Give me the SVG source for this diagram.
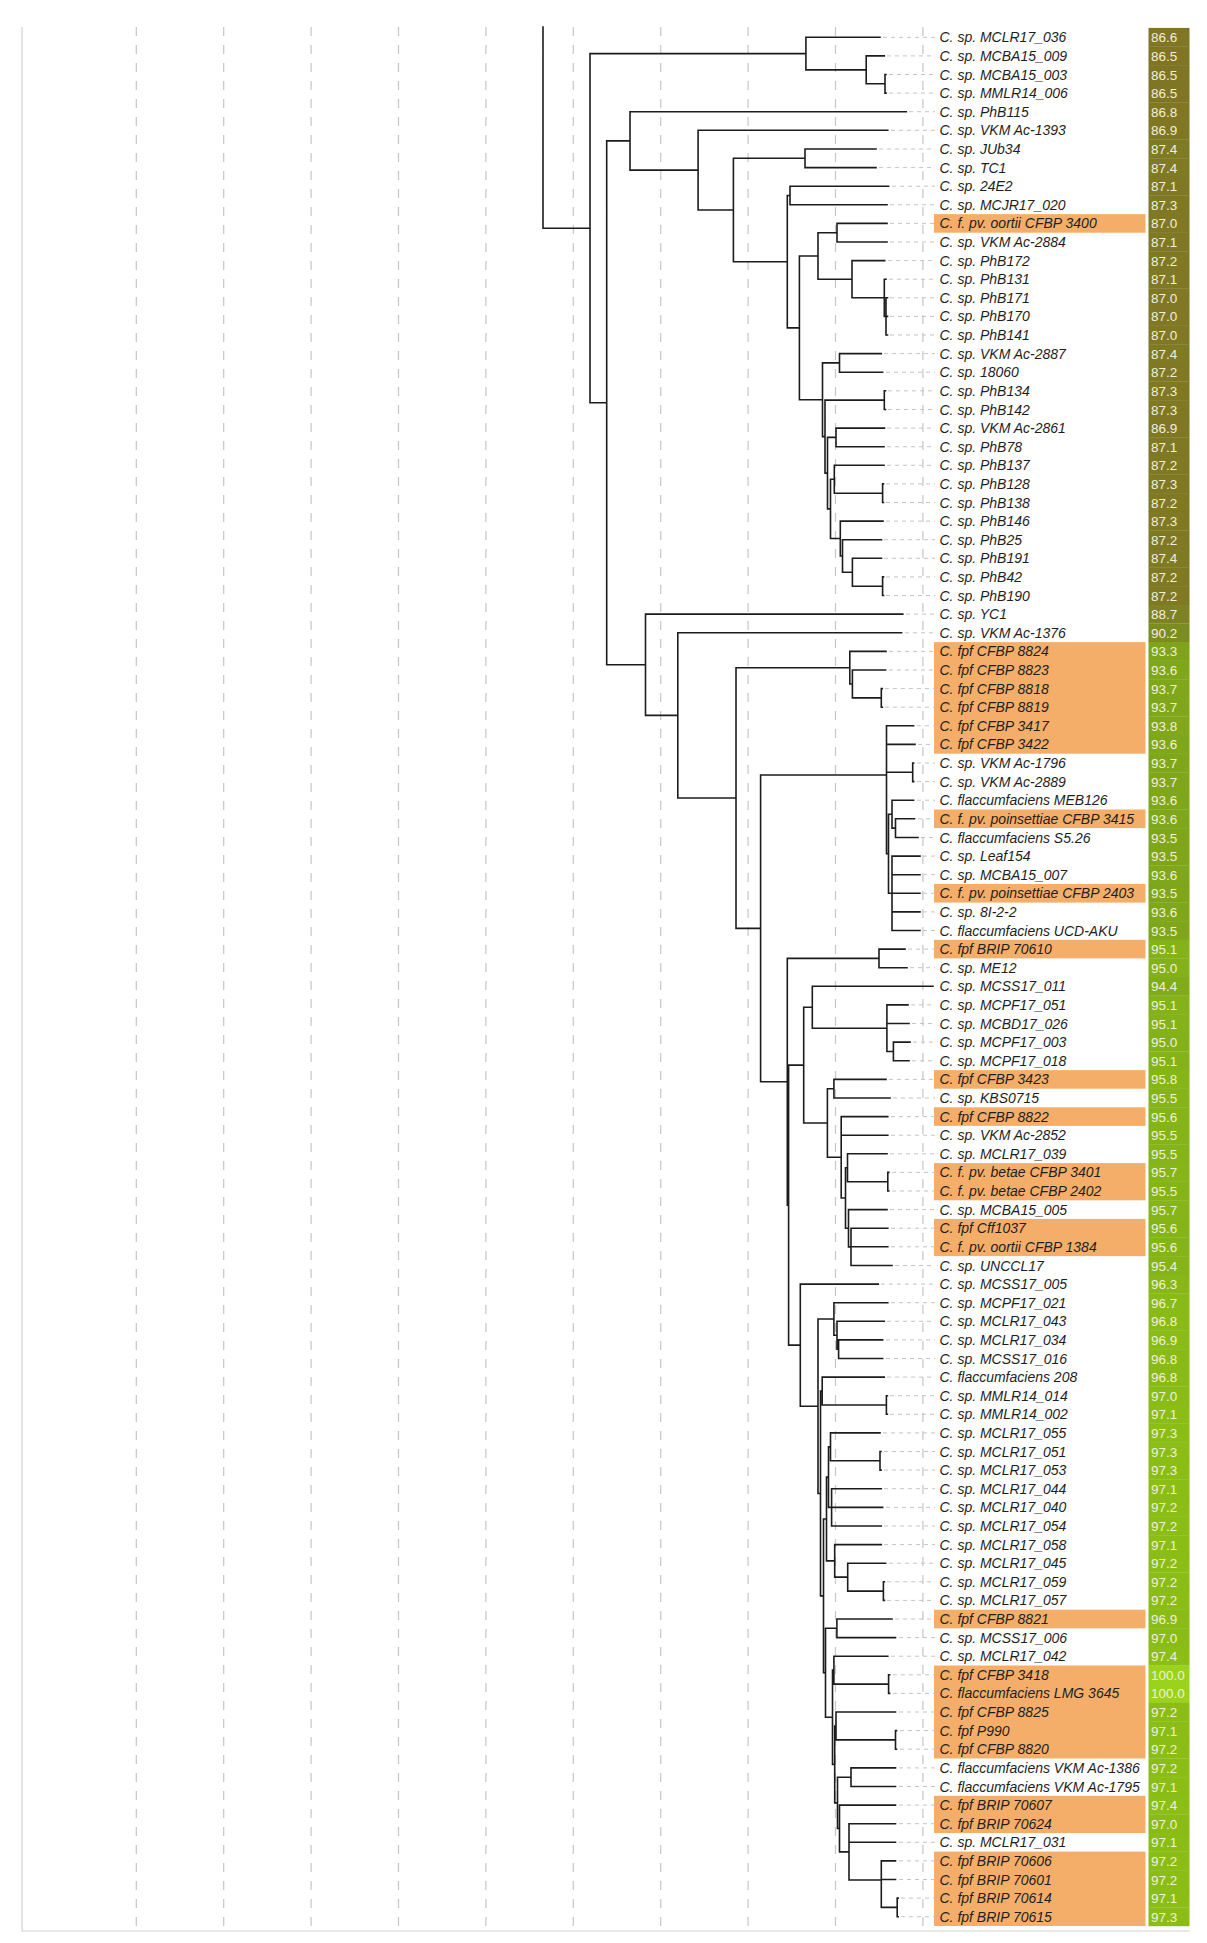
<svg xmlns="http://www.w3.org/2000/svg" width="1207" height="1943" viewBox="0 0 1207 1943">
<style>
.grid{stroke:#c6c6c6;stroke-width:1.2;stroke-dasharray:9 9;fill:none}
.frame{stroke:#d2d2d2;stroke-width:1.2;fill:none}
.br{stroke:#1c1c1c;stroke-width:1.6;fill:none;stroke-linecap:square}
.ld{stroke:#c4c4c4;stroke-width:1;stroke-dasharray:4 4;fill:none}
.hl{fill:#f4ae6a}
.lb{font-family:"Liberation Sans",Arial,sans-serif;font-style:italic;font-size:14px;fill:#1e1e1e}
.vt{font-family:"Liberation Sans",Arial,sans-serif;font-size:13.5px;fill:#f0efdc}
</style>
<rect width="1207" height="1943" fill="#ffffff"/>
<g id="background">
<path class="grid" d="M136.3 27V1927M223.7 27V1927M311.1 27V1927M398.5 27V1927M485.9 27V1927M573.3 27V1927M660.7 27V1927M748.1 27V1927M835.5 27V1927M922.9 27V1927"/>
<path class="frame" d="M22 27V1931H1190"/>
</g>
<g id="highlights">
<rect class="hl" x="934" y="214.1" width="211.5" height="18.6"/>
<rect class="hl" x="934" y="642.1" width="211.5" height="111.6"/>
<rect class="hl" x="934" y="809.5" width="211.5" height="18.6"/>
<rect class="hl" x="934" y="884.0" width="211.5" height="18.6"/>
<rect class="hl" x="934" y="939.8" width="211.5" height="18.6"/>
<rect class="hl" x="934" y="1070.1" width="211.5" height="18.6"/>
<rect class="hl" x="934" y="1107.3" width="211.5" height="18.6"/>
<rect class="hl" x="934" y="1163.1" width="211.5" height="37.2"/>
<rect class="hl" x="934" y="1218.9" width="211.5" height="37.2"/>
<rect class="hl" x="934" y="1609.7" width="211.5" height="18.6"/>
<rect class="hl" x="934" y="1665.5" width="211.5" height="93.0"/>
<rect class="hl" x="934" y="1795.8" width="211.5" height="37.2"/>
<rect class="hl" x="934" y="1851.6" width="211.5" height="74.4"/>
</g>
<g id="connectors">
<path class="ld" d="M883 37.3H935M887 55.9H935M889 74.5H935M889 93.1H935M909 111.7H935M891 130.3H935M879 149H935M879 167.6H935M892 186.2H935M890 204.8H935M890 223.4H935M890 242H935M888 260.6H935M889 279.2H935M890 297.8H935M890 316.4H935M890 335H935M884 353.6H935M886 372.2H935M888 390.8H935M888 409.5H935M887 428.1H935M887 446.7H935M887 465.3H935M886 483.9H935M886 502.5H935M886 521.1H935M884 539.7H935M884 558.3H935M886 576.9H935M886 595.5H935M906 614.1H935M905 632.8H935M889 651.4H935M889 670H935M885 688.6H935M885 707.2H935M917 725.8H935M918 744.4H935M917 763H935M917 781.6H935M917 800.2H935M918 818.8H935M921 837.5H935M923 856.1H935M923 874.7H935M923 893.3H935M923 911.9H935M923 930.5H935M908 949.1H935M910 967.7H935M911 1004.9H935M912 1023.5H935M913 1042.1H935M912 1060.8H935M889 1079.4H935M893 1098H935M891 1116.6H935M891 1135.2H935M890 1153.8H935M892 1172.4H935M892 1191H935M890 1209.6H935M891 1228.2H935M891 1246.8H935M895 1265.5H935M881 1284.1H935M891 1302.7H935M887 1321.3H935M886 1339.9H935M886 1358.5H935M887 1377.1H935M890 1395.7H935M890 1414.3H935M883 1432.9H935M884 1451.5H935M884 1470.1H935M884 1488.7H935M886 1507.4H935M884 1526H935M884 1544.6H935M889 1563.2H935M887 1581.8H935M887 1600.4H935M895 1619H935M899 1637.6H935M891 1656.2H935M893 1674.8H935M893 1693.4H935M899 1712H935M900 1730.6H935M900 1749.2H935M899 1767.9H935M899 1786.5H935M899 1805.1H935M899 1823.7H935M899 1842.3H935M899 1860.9H935M899 1879.5H935M901 1898.1H935M901 1916.7H935"/>
<path class="br" d="M543 27V228.2M543 228.2H590
M590 53.6V402.8M590 53.6H805.9M590 402.8H606.7
M805.9 37.3V69.85M805.9 37.3H880M805.9 69.85H866.2
M866.2 55.9V83.8M866.2 55.9H884.3M866.2 83.8H885
M885 74.5V93.1M885 74.5H886M885 93.1H886
M606.7 140.9V664.75M606.7 140.9H630M606.7 664.75H645.5
M630 111.7V170.15M630 111.7H906.3M630 170.15H698.1
M698.1 130.3V210M698.1 130.3H887.8M698.1 210H733.4
M733.4 158.3V261.7M733.4 158.3H805M733.4 261.7H787.3
M805 149V167.6M805 149H876M805 167.6H876
M787.3 195.5V327.9M787.3 195.5H790M787.3 327.9H799.4
M790 186.2V204.8M790 186.2H888.6M790 204.8H887
M799.4 255.95V399.8M799.4 255.95H818M799.4 399.8H822.5
M818 232.7V279.2M818 232.7H837M818 279.2H852
M837 223.4V242M837 223.4H887M837 242H887
M852 260.6V297.8M852 260.6H884.7M852 297.8H884.3
M884.3 279.2V316.4M884.3 279.2H886M884.3 316.4H886
M886 297.8V335M886 297.8H887.5M886 316.4H887.5M886 335H887.5
M822.5 362.9V436.65M822.5 362.9H839.5M822.5 436.65H825
M839.5 353.6V372.2M839.5 353.6H881.3M839.5 372.2H882.6
M825 400.15V473.15M825 400.15H884.3M825 473.15H827.5
M884.3 390.8V409.5M884.3 390.8H885.5M884.3 409.5H885.5
M827.5 437.4V508.9M827.5 437.4H836M827.5 508.9H830.5
M836 428.1V446.7M836 428.1H884.5M836 446.7H884
M830.5 479.25V538.55M830.5 479.25H834.3M830.5 538.55H840.3
M834.3 465.3V493.2M834.3 465.3H884M834.3 493.2H882.6
M882.6 483.9V502.5M882.6 483.9H883.5M882.6 502.5H883.5
M840.3 521.1V556M840.3 521.1H883M840.3 556H842.5
M842.5 539.7V572.25M842.5 539.7H881.5M842.5 572.25H852.4
M852.4 558.3V586.2M852.4 558.3H881.5M852.4 586.2H882.6
M882.6 576.9V595.5M882.6 576.9H883.5M882.6 595.5H883.5
M645.5 614.1V715.4M645.5 614.1H902.8M645.5 715.4H677.8
M677.8 632.8V798.05M677.8 632.8H901.6M677.8 798.05H736
M736 667.7V928.4M736 667.7H849.8M736 928.4H760.6
M849.8 651.4V683.95M849.8 651.4H886M849.8 683.95H852.4
M852.4 670V697.9M852.4 670H885.6M852.4 697.9H881.3
M881.3 688.6V707.2M881.3 688.6H882.3M881.3 707.2H882.3
M760.6 775V1081.75M760.6 775H886.5M760.6 1081.75H787.3
M886.5 725.8V853.75M886.5 725.8H913.6M886.5 744.4H915M886.5 772.3H912.7M886.5 853.75H888.5
M912.7 763V781.6M912.7 763H913.7M912.7 781.6H913.7
M888.5 814.2V893.3M888.5 814.2H892M888.5 893.3H892
M892 800.2V828.15M892 800.2H913.6M892 828.15H895.5
M895.5 818.8V837.5M895.5 818.8H914.5M895.5 837.5H918
M892 856.1V930.5M892 856.1H920M892 874.7H920M892 893.3H920M892 911.9H920M892 930.5H920
M787.3 958.4V1205.1M787.3 958.4H879M787.3 1205.1H788.6
M879 949.1V967.7M879 949.1H905M879 967.7H907
M788.6 1065.1V1345.15M788.6 1065.1H803.7M788.6 1345.15H800.3
M803.7 1007.25V1123M803.7 1007.25H812.3M803.7 1123H827.4
M812.3 986.3V1028.2M812.3 986.3H933M812.3 1028.2H886.9
M886.9 1004.9V1051.45M886.9 1004.9H908M886.9 1023.5H909M886.9 1051.45H893.4
M893.4 1042.1V1060.8M893.4 1042.1H910M893.4 1060.8H909
M827.4 1088.7V1157.3M827.4 1088.7H833.9M827.4 1157.3H841.2
M833.9 1079.4V1098M833.9 1079.4H886M833.9 1098H890
M841.2 1116.6V1198M841.2 1116.6H887.8M841.2 1135.2H887.8M841.2 1198H845.5
M845.5 1167.75V1228.2M845.5 1167.75H847.5M845.5 1228.2H848.5
M847.5 1153.8V1181.7M847.5 1153.8H887M847.5 1181.7H887.8
M887.8 1172.4V1191M887.8 1172.4H888.8M887.8 1191H888.8
M848.5 1209.6V1246.85M848.5 1209.6H887M848.5 1246.85H851
M851 1228.2V1265.5M851 1228.2H887.8M851 1246.8H887.8M851 1265.5H892
M800.3 1284.1V1406.2M800.3 1284.1H878.3M800.3 1406.2H818
M818 1318.98V1493.47M818 1318.98H833.9M818 1493.47H820.5
M833.9 1302.7V1335.25M833.9 1302.7H887.8M833.9 1335.25H837
M837 1321.3V1349.2M837 1321.3H884.3M837 1349.2H838.6
M838.6 1339.9V1358.5M838.6 1339.9H882.6M838.6 1358.5H882.6
M820.5 1391.05V1595.89M820.5 1391.05H822.2M820.5 1595.89H823.5
M822.2 1377.1V1405M822.2 1377.1H884.3M822.2 1405H886.4
M886.4 1395.7V1414.3M886.4 1395.7H887.4M886.4 1414.3H887.4
M823.5 1518.99V1672.79M823.5 1518.99H826.5M823.5 1672.79H825.5
M826.5 1477.1V1560.88M826.5 1477.1H828.5M826.5 1560.88H834.7
M828.5 1446.85V1507.35M828.5 1446.85H830.5M828.5 1507.35H831.6
M830.5 1432.9V1460.8M830.5 1432.9H880M830.5 1460.8H880
M880 1451.5V1470.1M880 1451.5H881M880 1470.1H881
M831.6 1488.7V1526M831.6 1488.7H881.3M831.6 1507.4H882.6M831.6 1526H881.3
M834.7 1544.6V1577.15M834.7 1544.6H881.3M834.7 1577.15H847.7
M847.7 1563.2V1591.1M847.7 1563.2H885.6M847.7 1591.1H883.4
M883.4 1581.8V1600.4M883.4 1581.8H884.4M883.4 1600.4H884.4
M825.5 1628.3V1717.28M825.5 1628.3H836.9M825.5 1717.28H832.5
M836.9 1619V1637.6M836.9 1619H892M836.9 1637.6H895.5
M832.5 1670.15V1764.4M832.5 1670.15H833.9M832.5 1764.4H834.7
M833.9 1656.2V1684.1M833.9 1656.2H887.8M833.9 1684.1H888.6
M888.6 1674.8V1693.4M888.6 1674.8H889.6M888.6 1693.4H889.6
M834.7 1725.95V1802.85M834.7 1725.95H836M834.7 1802.85H837.5
M836 1712V1739.9M836 1712H895.5M836 1739.9H895.5
M895.5 1730.6V1749.2M895.5 1730.6H896.5M895.5 1749.2H896.5
M837.5 1777.2V1828.5M837.5 1777.2H851M837.5 1828.5H839.5
M851 1767.9V1786.5M851 1767.9H895.5M851 1786.5H895.5
M839.5 1805.1V1851.85M839.5 1805.1H895.5M839.5 1851.85H849
M849 1823.7V1880M849 1823.7H895.5M849 1842.3H895.5M849 1880H881.3
M881.3 1860.9V1907.4M881.3 1860.9H895.5M881.3 1879.5H895.5M881.3 1907.4H897.2
M897.2 1898.1V1916.7M897.2 1898.1H898.2M897.2 1916.7H898.2"/>
</g>
<g id="leaves">
<g id="leaf-0"><text class="lb" x="939.5" y="42.3">C. sp. MCLR17_036</text><rect x="1148.5" y="27.9" width="41" height="18.9" fill="#807625"/><text class="vt" x="1151" y="42.3">86.6</text></g>
<g id="leaf-1"><text class="lb" x="939.5" y="60.9">C. sp. MCBA15_009</text><rect x="1148.5" y="46.5" width="41" height="18.9" fill="#807525"/><text class="vt" x="1151" y="60.9">86.5</text></g>
<g id="leaf-2"><text class="lb" x="939.5" y="79.5">C. sp. MCBA15_003</text><rect x="1148.5" y="65.1" width="41" height="18.9" fill="#807525"/><text class="vt" x="1151" y="79.5">86.5</text></g>
<g id="leaf-3"><text class="lb" x="939.5" y="98.1">C. sp. MMLR14_006</text><rect x="1148.5" y="83.7" width="41" height="18.9" fill="#807525"/><text class="vt" x="1151" y="98.1">86.5</text></g>
<g id="leaf-4"><text class="lb" x="939.5" y="116.7">C. sp. PhB115</text><rect x="1148.5" y="102.3" width="41" height="18.9" fill="#807725"/><text class="vt" x="1151" y="116.7">86.8</text></g>
<g id="leaf-5"><text class="lb" x="939.5" y="135.3">C. sp. VKM Ac-1393</text><rect x="1148.5" y="120.9" width="41" height="18.9" fill="#807725"/><text class="vt" x="1151" y="135.3">86.9</text></g>
<g id="leaf-6"><text class="lb" x="939.5" y="154">C. sp. JUb34</text><rect x="1148.5" y="139.6" width="41" height="18.9" fill="#7f7a24"/><text class="vt" x="1151" y="154">87.4</text></g>
<g id="leaf-7"><text class="lb" x="939.5" y="172.6">C. sp. TC1</text><rect x="1148.5" y="158.2" width="41" height="18.9" fill="#7f7a24"/><text class="vt" x="1151" y="172.6">87.4</text></g>
<g id="leaf-8"><text class="lb" x="939.5" y="191.2">C. sp. 24E2</text><rect x="1148.5" y="176.8" width="41" height="18.9" fill="#7f7824"/><text class="vt" x="1151" y="191.2">87.1</text></g>
<g id="leaf-9"><text class="lb" x="939.5" y="209.8">C. sp. MCJR17_020</text><rect x="1148.5" y="195.4" width="41" height="18.9" fill="#7f7924"/><text class="vt" x="1151" y="209.8">87.3</text></g>
<g id="leaf-10"><text class="lb" x="939.5" y="228.4">C. f. pv. oortii CFBP 3400</text><rect x="1148.5" y="214" width="41" height="18.9" fill="#807824"/><text class="vt" x="1151" y="228.4">87.0</text></g>
<g id="leaf-11"><text class="lb" x="939.5" y="247">C. sp. VKM Ac-2884</text><rect x="1148.5" y="232.6" width="41" height="18.9" fill="#7f7824"/><text class="vt" x="1151" y="247">87.1</text></g>
<g id="leaf-12"><text class="lb" x="939.5" y="265.6">C. sp. PhB172</text><rect x="1148.5" y="251.2" width="41" height="18.9" fill="#7f7924"/><text class="vt" x="1151" y="265.6">87.2</text></g>
<g id="leaf-13"><text class="lb" x="939.5" y="284.2">C. sp. PhB131</text><rect x="1148.5" y="269.8" width="41" height="18.9" fill="#7f7824"/><text class="vt" x="1151" y="284.2">87.1</text></g>
<g id="leaf-14"><text class="lb" x="939.5" y="302.8">C. sp. PhB171</text><rect x="1148.5" y="288.4" width="41" height="18.9" fill="#807824"/><text class="vt" x="1151" y="302.8">87.0</text></g>
<g id="leaf-15"><text class="lb" x="939.5" y="321.4">C. sp. PhB170</text><rect x="1148.5" y="307" width="41" height="18.9" fill="#807824"/><text class="vt" x="1151" y="321.4">87.0</text></g>
<g id="leaf-16"><text class="lb" x="939.5" y="340">C. sp. PhB141</text><rect x="1148.5" y="325.6" width="41" height="18.9" fill="#807824"/><text class="vt" x="1151" y="340">87.0</text></g>
<g id="leaf-17"><text class="lb" x="939.5" y="358.6">C. sp. VKM Ac-2887</text><rect x="1148.5" y="344.2" width="41" height="18.9" fill="#7f7a24"/><text class="vt" x="1151" y="358.6">87.4</text></g>
<g id="leaf-18"><text class="lb" x="939.5" y="377.2">C. sp. 18060</text><rect x="1148.5" y="362.8" width="41" height="18.9" fill="#7f7924"/><text class="vt" x="1151" y="377.2">87.2</text></g>
<g id="leaf-19"><text class="lb" x="939.5" y="395.8">C. sp. PhB134</text><rect x="1148.5" y="381.4" width="41" height="18.9" fill="#7f7924"/><text class="vt" x="1151" y="395.8">87.3</text></g>
<g id="leaf-20"><text class="lb" x="939.5" y="414.5">C. sp. PhB142</text><rect x="1148.5" y="400.1" width="41" height="18.9" fill="#7f7924"/><text class="vt" x="1151" y="414.5">87.3</text></g>
<g id="leaf-21"><text class="lb" x="939.5" y="433.1">C. sp. VKM Ac-2861</text><rect x="1148.5" y="418.7" width="41" height="18.9" fill="#807725"/><text class="vt" x="1151" y="433.1">86.9</text></g>
<g id="leaf-22"><text class="lb" x="939.5" y="451.7">C. sp. PhB78</text><rect x="1148.5" y="437.3" width="41" height="18.9" fill="#7f7824"/><text class="vt" x="1151" y="451.7">87.1</text></g>
<g id="leaf-23"><text class="lb" x="939.5" y="470.3">C. sp. PhB137</text><rect x="1148.5" y="455.9" width="41" height="18.9" fill="#7f7924"/><text class="vt" x="1151" y="470.3">87.2</text></g>
<g id="leaf-24"><text class="lb" x="939.5" y="488.9">C. sp. PhB128</text><rect x="1148.5" y="474.5" width="41" height="18.9" fill="#7f7924"/><text class="vt" x="1151" y="488.9">87.3</text></g>
<g id="leaf-25"><text class="lb" x="939.5" y="507.5">C. sp. PhB138</text><rect x="1148.5" y="493.1" width="41" height="18.9" fill="#7f7924"/><text class="vt" x="1151" y="507.5">87.2</text></g>
<g id="leaf-26"><text class="lb" x="939.5" y="526.1">C. sp. PhB146</text><rect x="1148.5" y="511.7" width="41" height="18.9" fill="#7f7924"/><text class="vt" x="1151" y="526.1">87.3</text></g>
<g id="leaf-27"><text class="lb" x="939.5" y="544.7">C. sp. PhB25</text><rect x="1148.5" y="530.3" width="41" height="18.9" fill="#7f7924"/><text class="vt" x="1151" y="544.7">87.2</text></g>
<g id="leaf-28"><text class="lb" x="939.5" y="563.3">C. sp. PhB191</text><rect x="1148.5" y="548.9" width="41" height="18.9" fill="#7f7a24"/><text class="vt" x="1151" y="563.3">87.4</text></g>
<g id="leaf-29"><text class="lb" x="939.5" y="581.9">C. sp. PhB42</text><rect x="1148.5" y="567.5" width="41" height="18.9" fill="#7f7924"/><text class="vt" x="1151" y="581.9">87.2</text></g>
<g id="leaf-30"><text class="lb" x="939.5" y="600.5">C. sp. PhB190</text><rect x="1148.5" y="586.1" width="41" height="18.9" fill="#7f7924"/><text class="vt" x="1151" y="600.5">87.2</text></g>
<g id="leaf-31"><text class="lb" x="939.5" y="619.1">C. sp. YC1</text><rect x="1148.5" y="604.7" width="41" height="18.9" fill="#7d8222"/><text class="vt" x="1151" y="619.1">88.7</text></g>
<g id="leaf-32"><text class="lb" x="939.5" y="637.8">C. sp. VKM Ac-1376</text><rect x="1148.5" y="623.4" width="41" height="18.9" fill="#7b8d20"/><text class="vt" x="1151" y="637.8">90.2</text></g>
<g id="leaf-33"><text class="lb" x="939.5" y="656.4">C. fpf CFBP 8824</text><rect x="1148.5" y="642" width="41" height="18.9" fill="#7fa41b"/><text class="vt" x="1151" y="656.4">93.3</text></g>
<g id="leaf-34"><text class="lb" x="939.5" y="675">C. fpf CFBP 8823</text><rect x="1148.5" y="660.6" width="41" height="18.9" fill="#7fa71b"/><text class="vt" x="1151" y="675">93.6</text></g>
<g id="leaf-35"><text class="lb" x="939.5" y="693.6">C. fpf CFBP 8818</text><rect x="1148.5" y="679.2" width="41" height="18.9" fill="#80a71b"/><text class="vt" x="1151" y="693.6">93.7</text></g>
<g id="leaf-36"><text class="lb" x="939.5" y="712.2">C. fpf CFBP 8819</text><rect x="1148.5" y="697.8" width="41" height="18.9" fill="#80a71b"/><text class="vt" x="1151" y="712.2">93.7</text></g>
<g id="leaf-37"><text class="lb" x="939.5" y="730.8">C. fpf CFBP 3417</text><rect x="1148.5" y="716.4" width="41" height="18.9" fill="#80a81a"/><text class="vt" x="1151" y="730.8">93.8</text></g>
<g id="leaf-38"><text class="lb" x="939.5" y="749.4">C. fpf CFBP 3422</text><rect x="1148.5" y="735" width="41" height="18.9" fill="#7fa71b"/><text class="vt" x="1151" y="749.4">93.6</text></g>
<g id="leaf-39"><text class="lb" x="939.5" y="768">C. sp. VKM Ac-1796</text><rect x="1148.5" y="753.6" width="41" height="18.9" fill="#80a71b"/><text class="vt" x="1151" y="768">93.7</text></g>
<g id="leaf-40"><text class="lb" x="939.5" y="786.6">C. sp. VKM Ac-2889</text><rect x="1148.5" y="772.2" width="41" height="18.9" fill="#80a71b"/><text class="vt" x="1151" y="786.6">93.7</text></g>
<g id="leaf-41"><text class="lb" x="939.5" y="805.2">C. flaccumfaciens MEB126</text><rect x="1148.5" y="790.8" width="41" height="18.9" fill="#7fa71b"/><text class="vt" x="1151" y="805.2">93.6</text></g>
<g id="leaf-42"><text class="lb" x="939.5" y="823.8">C. f. pv. poinsettiae CFBP 3415</text><rect x="1148.5" y="809.4" width="41" height="18.9" fill="#7fa71b"/><text class="vt" x="1151" y="823.8">93.6</text></g>
<g id="leaf-43"><text class="lb" x="939.5" y="842.5">C. flaccumfaciens S5.26</text><rect x="1148.5" y="828.1" width="41" height="18.9" fill="#7fa61b"/><text class="vt" x="1151" y="842.5">93.5</text></g>
<g id="leaf-44"><text class="lb" x="939.5" y="861.1">C. sp. Leaf154</text><rect x="1148.5" y="846.7" width="41" height="18.9" fill="#7fa61b"/><text class="vt" x="1151" y="861.1">93.5</text></g>
<g id="leaf-45"><text class="lb" x="939.5" y="879.7">C. sp. MCBA15_007</text><rect x="1148.5" y="865.3" width="41" height="18.9" fill="#7fa71b"/><text class="vt" x="1151" y="879.7">93.6</text></g>
<g id="leaf-46"><text class="lb" x="939.5" y="898.3">C. f. pv. poinsettiae CFBP 2403</text><rect x="1148.5" y="883.9" width="41" height="18.9" fill="#7fa61b"/><text class="vt" x="1151" y="898.3">93.5</text></g>
<g id="leaf-47"><text class="lb" x="939.5" y="916.9">C. sp. 8I-2-2</text><rect x="1148.5" y="902.5" width="41" height="18.9" fill="#7fa71b"/><text class="vt" x="1151" y="916.9">93.6</text></g>
<g id="leaf-48"><text class="lb" x="939.5" y="935.5">C. flaccumfaciens UCD-AKU</text><rect x="1148.5" y="921.1" width="41" height="18.9" fill="#7fa61b"/><text class="vt" x="1151" y="935.5">93.5</text></g>
<g id="leaf-49"><text class="lb" x="939.5" y="954.1">C. fpf BRIP 70610</text><rect x="1148.5" y="939.7" width="41" height="18.9" fill="#83b219"/><text class="vt" x="1151" y="954.1">95.1</text></g>
<g id="leaf-50"><text class="lb" x="939.5" y="972.7">C. sp. ME12</text><rect x="1148.5" y="958.3" width="41" height="18.9" fill="#83b119"/><text class="vt" x="1151" y="972.7">95.0</text></g>
<g id="leaf-51"><text class="lb" x="939.5" y="991.3">C. sp. MCSS17_011</text><rect x="1148.5" y="976.9" width="41" height="18.9" fill="#81ac1a"/><text class="vt" x="1151" y="991.3">94.4</text></g>
<g id="leaf-52"><text class="lb" x="939.5" y="1009.9">C. sp. MCPF17_051</text><rect x="1148.5" y="995.5" width="41" height="18.9" fill="#83b219"/><text class="vt" x="1151" y="1009.9">95.1</text></g>
<g id="leaf-53"><text class="lb" x="939.5" y="1028.5">C. sp. MCBD17_026</text><rect x="1148.5" y="1014.1" width="41" height="18.9" fill="#83b219"/><text class="vt" x="1151" y="1028.5">95.1</text></g>
<g id="leaf-54"><text class="lb" x="939.5" y="1047.1">C. sp. MCPF17_003</text><rect x="1148.5" y="1032.7" width="41" height="18.9" fill="#83b119"/><text class="vt" x="1151" y="1047.1">95.0</text></g>
<g id="leaf-55"><text class="lb" x="939.5" y="1065.8">C. sp. MCPF17_018</text><rect x="1148.5" y="1051.4" width="41" height="18.9" fill="#83b219"/><text class="vt" x="1151" y="1065.8">95.1</text></g>
<g id="leaf-56"><text class="lb" x="939.5" y="1084.4">C. fpf CFBP 3423</text><rect x="1148.5" y="1070" width="41" height="18.9" fill="#85b618"/><text class="vt" x="1151" y="1084.4">95.8</text></g>
<g id="leaf-57"><text class="lb" x="939.5" y="1103">C. sp. KBS0715</text><rect x="1148.5" y="1088.6" width="41" height="18.9" fill="#84b418"/><text class="vt" x="1151" y="1103">95.5</text></g>
<g id="leaf-58"><text class="lb" x="939.5" y="1121.6">C. fpf CFBP 8822</text><rect x="1148.5" y="1107.2" width="41" height="18.9" fill="#84b518"/><text class="vt" x="1151" y="1121.6">95.6</text></g>
<g id="leaf-59"><text class="lb" x="939.5" y="1140.2">C. sp. VKM Ac-2852</text><rect x="1148.5" y="1125.8" width="41" height="18.9" fill="#84b418"/><text class="vt" x="1151" y="1140.2">95.5</text></g>
<g id="leaf-60"><text class="lb" x="939.5" y="1158.8">C. sp. MCLR17_039</text><rect x="1148.5" y="1144.4" width="41" height="18.9" fill="#84b418"/><text class="vt" x="1151" y="1158.8">95.5</text></g>
<g id="leaf-61"><text class="lb" x="939.5" y="1177.4">C. f. pv. betae CFBP 3401</text><rect x="1148.5" y="1163" width="41" height="18.9" fill="#85b518"/><text class="vt" x="1151" y="1177.4">95.7</text></g>
<g id="leaf-62"><text class="lb" x="939.5" y="1196">C. f. pv. betae CFBP 2402</text><rect x="1148.5" y="1181.6" width="41" height="18.9" fill="#84b418"/><text class="vt" x="1151" y="1196">95.5</text></g>
<g id="leaf-63"><text class="lb" x="939.5" y="1214.6">C. sp. MCBA15_005</text><rect x="1148.5" y="1200.2" width="41" height="18.9" fill="#85b518"/><text class="vt" x="1151" y="1214.6">95.7</text></g>
<g id="leaf-64"><text class="lb" x="939.5" y="1233.2">C. fpf Cff1037</text><rect x="1148.5" y="1218.8" width="41" height="18.9" fill="#84b518"/><text class="vt" x="1151" y="1233.2">95.6</text></g>
<g id="leaf-65"><text class="lb" x="939.5" y="1251.8">C. f. pv. oortii CFBP 1384</text><rect x="1148.5" y="1237.4" width="41" height="18.9" fill="#84b518"/><text class="vt" x="1151" y="1251.8">95.6</text></g>
<g id="leaf-66"><text class="lb" x="939.5" y="1270.5">C. sp. UNCCL17</text><rect x="1148.5" y="1256.1" width="41" height="18.9" fill="#84b418"/><text class="vt" x="1151" y="1270.5">95.4</text></g>
<g id="leaf-67"><text class="lb" x="939.5" y="1289.1">C. sp. MCSS17_005</text><rect x="1148.5" y="1274.7" width="41" height="18.9" fill="#87b817"/><text class="vt" x="1151" y="1289.1">96.3</text></g>
<g id="leaf-68"><text class="lb" x="939.5" y="1307.7">C. sp. MCPF17_021</text><rect x="1148.5" y="1293.3" width="41" height="18.9" fill="#88bb17"/><text class="vt" x="1151" y="1307.7">96.7</text></g>
<g id="leaf-69"><text class="lb" x="939.5" y="1326.3">C. sp. MCLR17_043</text><rect x="1148.5" y="1311.9" width="41" height="18.9" fill="#88bb17"/><text class="vt" x="1151" y="1326.3">96.8</text></g>
<g id="leaf-70"><text class="lb" x="939.5" y="1344.9">C. sp. MCLR17_034</text><rect x="1148.5" y="1330.5" width="41" height="18.9" fill="#89bc16"/><text class="vt" x="1151" y="1344.9">96.9</text></g>
<g id="leaf-71"><text class="lb" x="939.5" y="1363.5">C. sp. MCSS17_016</text><rect x="1148.5" y="1349.1" width="41" height="18.9" fill="#88bb17"/><text class="vt" x="1151" y="1363.5">96.8</text></g>
<g id="leaf-72"><text class="lb" x="939.5" y="1382.1">C. flaccumfaciens 208</text><rect x="1148.5" y="1367.7" width="41" height="18.9" fill="#88bb17"/><text class="vt" x="1151" y="1382.1">96.8</text></g>
<g id="leaf-73"><text class="lb" x="939.5" y="1400.7">C. sp. MMLR14_014</text><rect x="1148.5" y="1386.3" width="41" height="18.9" fill="#89bc16"/><text class="vt" x="1151" y="1400.7">97.0</text></g>
<g id="leaf-74"><text class="lb" x="939.5" y="1419.3">C. sp. MMLR14_002</text><rect x="1148.5" y="1404.9" width="41" height="18.9" fill="#8abd16"/><text class="vt" x="1151" y="1419.3">97.1</text></g>
<g id="leaf-75"><text class="lb" x="939.5" y="1437.9">C. sp. MCLR17_055</text><rect x="1148.5" y="1423.5" width="41" height="18.9" fill="#8abe16"/><text class="vt" x="1151" y="1437.9">97.3</text></g>
<g id="leaf-76"><text class="lb" x="939.5" y="1456.5">C. sp. MCLR17_051</text><rect x="1148.5" y="1442.1" width="41" height="18.9" fill="#8abe16"/><text class="vt" x="1151" y="1456.5">97.3</text></g>
<g id="leaf-77"><text class="lb" x="939.5" y="1475.1">C. sp. MCLR17_053</text><rect x="1148.5" y="1460.7" width="41" height="18.9" fill="#8abe16"/><text class="vt" x="1151" y="1475.1">97.3</text></g>
<g id="leaf-78"><text class="lb" x="939.5" y="1493.7">C. sp. MCLR17_044</text><rect x="1148.5" y="1479.3" width="41" height="18.9" fill="#8abd16"/><text class="vt" x="1151" y="1493.7">97.1</text></g>
<g id="leaf-79"><text class="lb" x="939.5" y="1512.4">C. sp. MCLR17_040</text><rect x="1148.5" y="1498" width="41" height="18.9" fill="#8abe16"/><text class="vt" x="1151" y="1512.4">97.2</text></g>
<g id="leaf-80"><text class="lb" x="939.5" y="1531">C. sp. MCLR17_054</text><rect x="1148.5" y="1516.6" width="41" height="18.9" fill="#8abe16"/><text class="vt" x="1151" y="1531">97.2</text></g>
<g id="leaf-81"><text class="lb" x="939.5" y="1549.6">C. sp. MCLR17_058</text><rect x="1148.5" y="1535.2" width="41" height="18.9" fill="#8abd16"/><text class="vt" x="1151" y="1549.6">97.1</text></g>
<g id="leaf-82"><text class="lb" x="939.5" y="1568.2">C. sp. MCLR17_045</text><rect x="1148.5" y="1553.8" width="41" height="18.9" fill="#8abe16"/><text class="vt" x="1151" y="1568.2">97.2</text></g>
<g id="leaf-83"><text class="lb" x="939.5" y="1586.8">C. sp. MCLR17_059</text><rect x="1148.5" y="1572.4" width="41" height="18.9" fill="#8abe16"/><text class="vt" x="1151" y="1586.8">97.2</text></g>
<g id="leaf-84"><text class="lb" x="939.5" y="1605.4">C. sp. MCLR17_057</text><rect x="1148.5" y="1591" width="41" height="18.9" fill="#8abe16"/><text class="vt" x="1151" y="1605.4">97.2</text></g>
<g id="leaf-85"><text class="lb" x="939.5" y="1624">C. fpf CFBP 8821</text><rect x="1148.5" y="1609.6" width="41" height="18.9" fill="#89bc16"/><text class="vt" x="1151" y="1624">96.9</text></g>
<g id="leaf-86"><text class="lb" x="939.5" y="1642.6">C. sp. MCSS17_006</text><rect x="1148.5" y="1628.2" width="41" height="18.9" fill="#89bc16"/><text class="vt" x="1151" y="1642.6">97.0</text></g>
<g id="leaf-87"><text class="lb" x="939.5" y="1661.2">C. sp. MCLR17_042</text><rect x="1148.5" y="1646.8" width="41" height="18.9" fill="#8bbf16"/><text class="vt" x="1151" y="1661.2">97.4</text></g>
<g id="leaf-88"><text class="lb" x="939.5" y="1679.8">C. fpf CFBP 3418</text><rect x="1148.5" y="1665.4" width="41" height="18.9" fill="#9bd21c"/><text class="vt" x="1151" y="1679.8">100.0</text></g>
<g id="leaf-89"><text class="lb" x="939.5" y="1698.4">C. flaccumfaciens LMG 3645</text><rect x="1148.5" y="1684" width="41" height="18.9" fill="#9bd21c"/><text class="vt" x="1151" y="1698.4">100.0</text></g>
<g id="leaf-90"><text class="lb" x="939.5" y="1717">C. fpf CFBP 8825</text><rect x="1148.5" y="1702.6" width="41" height="18.9" fill="#8abe16"/><text class="vt" x="1151" y="1717">97.2</text></g>
<g id="leaf-91"><text class="lb" x="939.5" y="1735.6">C. fpf P990</text><rect x="1148.5" y="1721.2" width="41" height="18.9" fill="#8abd16"/><text class="vt" x="1151" y="1735.6">97.1</text></g>
<g id="leaf-92"><text class="lb" x="939.5" y="1754.2">C. fpf CFBP 8820</text><rect x="1148.5" y="1739.8" width="41" height="18.9" fill="#8abe16"/><text class="vt" x="1151" y="1754.2">97.2</text></g>
<g id="leaf-93"><text class="lb" x="939.5" y="1772.9">C. flaccumfaciens VKM Ac-1386</text><rect x="1148.5" y="1758.5" width="41" height="18.9" fill="#8abe16"/><text class="vt" x="1151" y="1772.9">97.2</text></g>
<g id="leaf-94"><text class="lb" x="939.5" y="1791.5">C. flaccumfaciens VKM Ac-1795</text><rect x="1148.5" y="1777.1" width="41" height="18.9" fill="#8abd16"/><text class="vt" x="1151" y="1791.5">97.1</text></g>
<g id="leaf-95"><text class="lb" x="939.5" y="1810.1">C. fpf BRIP 70607</text><rect x="1148.5" y="1795.7" width="41" height="18.9" fill="#8bbf16"/><text class="vt" x="1151" y="1810.1">97.4</text></g>
<g id="leaf-96"><text class="lb" x="939.5" y="1828.7">C. fpf BRIP 70624</text><rect x="1148.5" y="1814.3" width="41" height="18.9" fill="#89bc16"/><text class="vt" x="1151" y="1828.7">97.0</text></g>
<g id="leaf-97"><text class="lb" x="939.5" y="1847.3">C. sp. MCLR17_031</text><rect x="1148.5" y="1832.9" width="41" height="18.9" fill="#8abd16"/><text class="vt" x="1151" y="1847.3">97.1</text></g>
<g id="leaf-98"><text class="lb" x="939.5" y="1865.9">C. fpf BRIP 70606</text><rect x="1148.5" y="1851.5" width="41" height="18.9" fill="#8abe16"/><text class="vt" x="1151" y="1865.9">97.2</text></g>
<g id="leaf-99"><text class="lb" x="939.5" y="1884.5">C. fpf BRIP 70601</text><rect x="1148.5" y="1870.1" width="41" height="18.9" fill="#8abe16"/><text class="vt" x="1151" y="1884.5">97.2</text></g>
<g id="leaf-100"><text class="lb" x="939.5" y="1903.1">C. fpf BRIP 70614</text><rect x="1148.5" y="1888.7" width="41" height="18.9" fill="#8abd16"/><text class="vt" x="1151" y="1903.1">97.1</text></g>
<g id="leaf-101"><text class="lb" x="939.5" y="1921.7">C. fpf BRIP 70615</text><rect x="1148.5" y="1907.3" width="41" height="18.9" fill="#8abe16"/><text class="vt" x="1151" y="1921.7">97.3</text></g>
</g>
</svg>
